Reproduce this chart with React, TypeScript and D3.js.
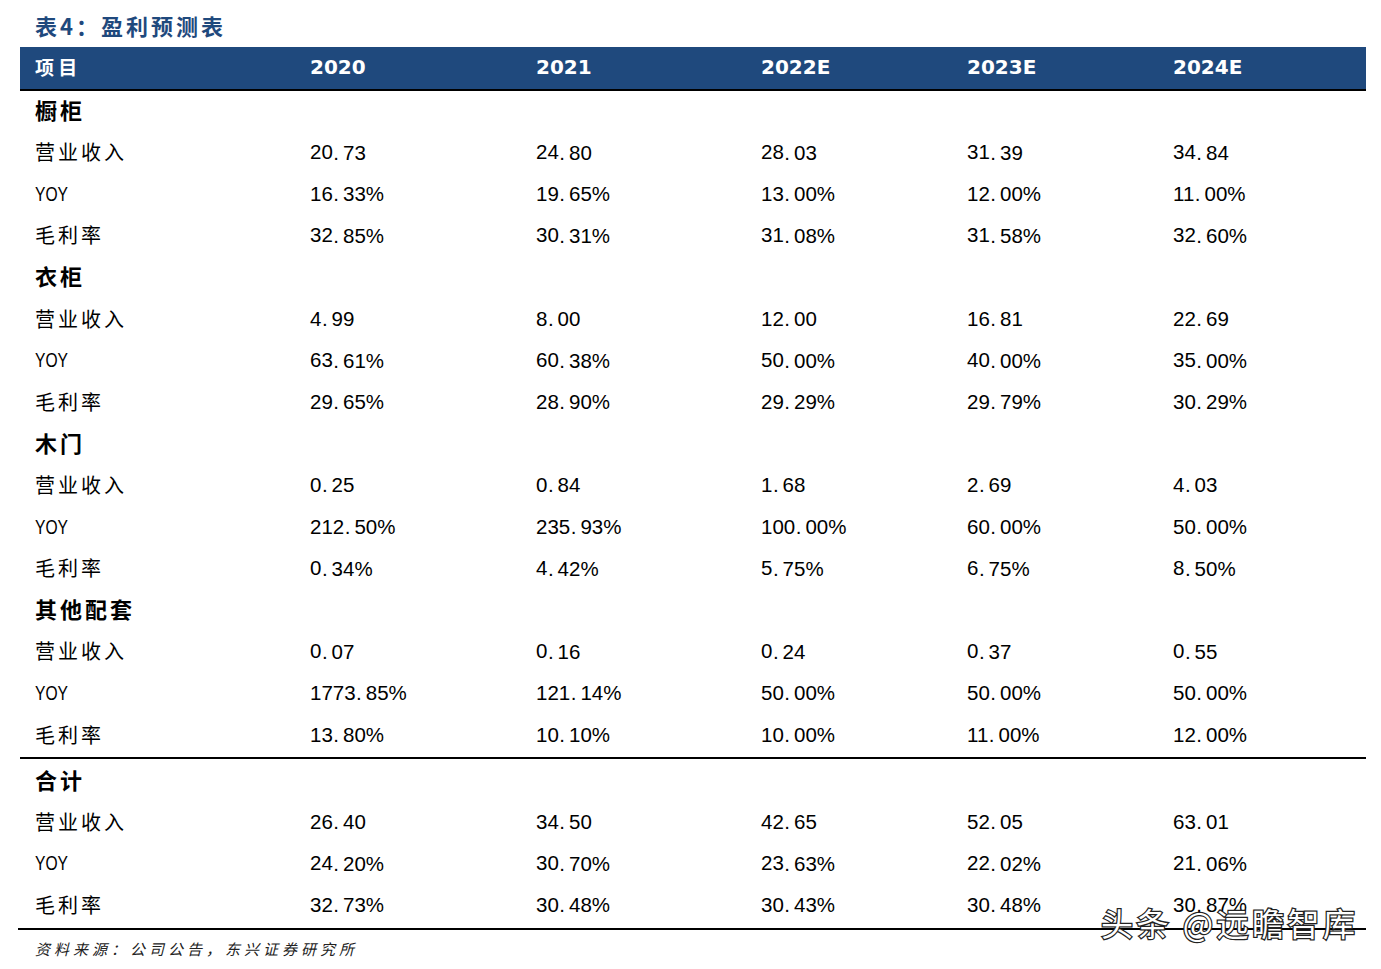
import React from "react";
import * as d3 from "d3";

const title = "表4：盈利预测表";
const headerLabel = "项 目";
const years = ["2020", "2021", "2022E", "2023E", "2024E"];
const metrics = ["营业收入", "YOY", "毛利率"];
const segments = ["橱柜", "衣柜", "木门", "其他配套"];

const cabinetRevenue = [20.73, 24.8, 28.03, 31.39, 34.84];
const cabinetYoy = [16.33, 19.65, 13.0, 12.0, 11.0];
const cabinetMargin = [32.85, 30.31, 31.08, 31.58, 32.6];

const wardrobeRevenue = [4.99, 8.0, 12.0, 16.81, 22.69];
const wardrobeYoy = [63.61, 60.38, 50.0, 40.0, 35.0];
const wardrobeMargin = [29.65, 28.9, 29.29, 29.79, 30.29];

const doorRevenue = [0.25, 0.84, 1.68, 2.69, 4.03];
const doorYoy = [212.5, 235.93, 100.0, 60.0, 50.0];
const doorMargin = [0.34, 4.42, 5.75, 6.75, 8.5];

const otherRevenue = [0.07, 0.16, 0.24, 0.37, 0.55];
const otherYoy = [1773.85, 121.14, 50.0, 50.0, 50.0];
const otherMargin = [13.8, 10.1, 10.0, 11.0, 12.0];

const totalLabel = "合计";
const totalRevenue = [26.4, 34.5, 42.65, 52.05, 63.01];
const totalYoy = [24.2, 30.7, 23.63, 22.02, 21.06];
const totalMargin = [32.73, 30.48, 30.43, 30.48, 30.87];

const source = "资料来源：公司公告，东兴证券研究所";
const watermark = "头条 @远瞻智库";

type Row = { label: string; kind: "group" | "metric"; values?: number[]; pct?: boolean };

const segmentData: number[][][] = [
  [cabinetRevenue, cabinetYoy, cabinetMargin],
  [wardrobeRevenue, wardrobeYoy, wardrobeMargin],
  [doorRevenue, doorYoy, doorMargin],
  [otherRevenue, otherYoy, otherMargin],
];

const upperRows: Row[] = [];
segments.forEach((s, i) => {
  upperRows.push({ label: s, kind: "group" });
  metrics.forEach((m, j) => {
    upperRows.push({ label: m, kind: "metric", values: segmentData[i][j], pct: j > 0 });
  });
});

const lowerRows: Row[] = [{ label: totalLabel, kind: "group" }];
[totalRevenue, totalYoy, totalMargin].forEach((v, j) =>
  lowerRows.push({ label: metrics[j], kind: "metric", values: v, pct: j > 0 })
);

const W = 1381;
const H = 969;
const left = 20;
const right = 1366;
const labelX = 35;
const blue = "#1f497d";
const cjk = "'Noto Sans CJK SC', sans-serif";
const num = "'Liberation Sans', Arial, sans-serif";

const xCol = d3.scaleOrdinal<string, number>().domain(years).range([310, 536, 761, 967, 1173]);
const yUpper = d3.scaleLinear().domain([0, upperRows.length - 1]).range([110, 734]);
const yLower = d3.scaleLinear().domain([0, lowerRows.length - 1]).range([780, 904]);

function NumText({ x, y, v, pct }: { x: number; y: number; v: number; pct?: boolean }) {
  const s = v.toFixed(2);
  const [a, b] = s.split(".");
  return (
    <text x={x} y={y} dominantBaseline="central" fontFamily={num} fontSize={20.5} fill="#000">
      {a}
      <tspan dx={0.5}>.</tspan>
      <tspan dx={4}>{b + (pct ? "%" : "")}</tspan>
    </text>
  );
}

function RowView({ row, y }: { row: Row; y: number }) {
  if (row.kind === "group") {
    return (
      <text x={labelX} y={y - 1} dominantBaseline="central" fontFamily={cjk} fontWeight={700} fontSize={22} letterSpacing={3} fill="#000">
        {row.label}
      </text>
    );
  }
  const isLatin = /^[A-Z]+$/.test(row.label);
  return (
    <g>
      {isLatin ? (
        <text x={labelX} y={y} dominantBaseline="central" fontFamily={num} fontSize={20.5} textLength={33} lengthAdjust="spacingAndGlyphs" fill="#000">
          {row.label}
        </text>
      ) : (
        <text x={labelX} y={y} dominantBaseline="central" fontFamily={cjk} fontSize={20} letterSpacing={3} fill="#000">
          {row.label}
        </text>
      )}
      {row.values!.map((v, k) => (
        <NumText key={k} x={xCol(years[k])} y={y} v={v} pct={row.pct} />
      ))}
    </g>
  );
}

export default function App() {
  return (
    <svg width={W} height={H} style={{ position: "absolute", left: 0, top: 0, background: "#fff" }}>
      <rect x={0} y={0} width={W} height={H} fill="#fff" />
      <text x={35} y={25} dominantBaseline="central" fontFamily={cjk} fontWeight={700} fontSize={22} letterSpacing={3} fill={blue}>
        {title}
      </text>
      <rect x={left} y={47} width={right - left} height={42} fill={blue} />
      <line x1={left} x2={right} y1={90} y2={90} stroke="#000" strokeWidth={2} />
      <text x={labelX} y={66} dominantBaseline="central" fontFamily={cjk} fontWeight={700} fontSize={19} fill="#fff">
        {headerLabel}
      </text>
      {years.map((yr) => (
        <text key={yr} x={xCol(yr)} y={67} dominantBaseline="central" fontFamily="'DejaVu Sans', sans-serif" fontWeight={700} fontSize={20} fill="#fff">
          {yr}
        </text>
      ))}
      {upperRows.map((r, i) => (
        <RowView key={"u" + i} row={r} y={yUpper(i)} />
      ))}
      <line x1={left} x2={right} y1={758} y2={758} stroke="#000" strokeWidth={2} />
      {lowerRows.map((r, i) => (
        <RowView key={"l" + i} row={r} y={yLower(i)} />
      ))}
      <line x1={18} x2={right} y1={929} y2={929} stroke="#000" strokeWidth={2} />
      <text x={35} y={948} dominantBaseline="central" fontFamily={cjk} fontStyle="italic" fontSize={15} letterSpacing={4} fill="#222">
        {source}
      </text>
      <text
        x={1101}
        y={922}
        dominantBaseline="central"
        fontFamily={cjk}
        fontSize={32}
        letterSpacing={3.5}
        fill="#fff"
        stroke="#222"
        strokeWidth={2.5}
        paintOrder="stroke"
      >
        {watermark}
      </text>
    </svg>
  );
}
